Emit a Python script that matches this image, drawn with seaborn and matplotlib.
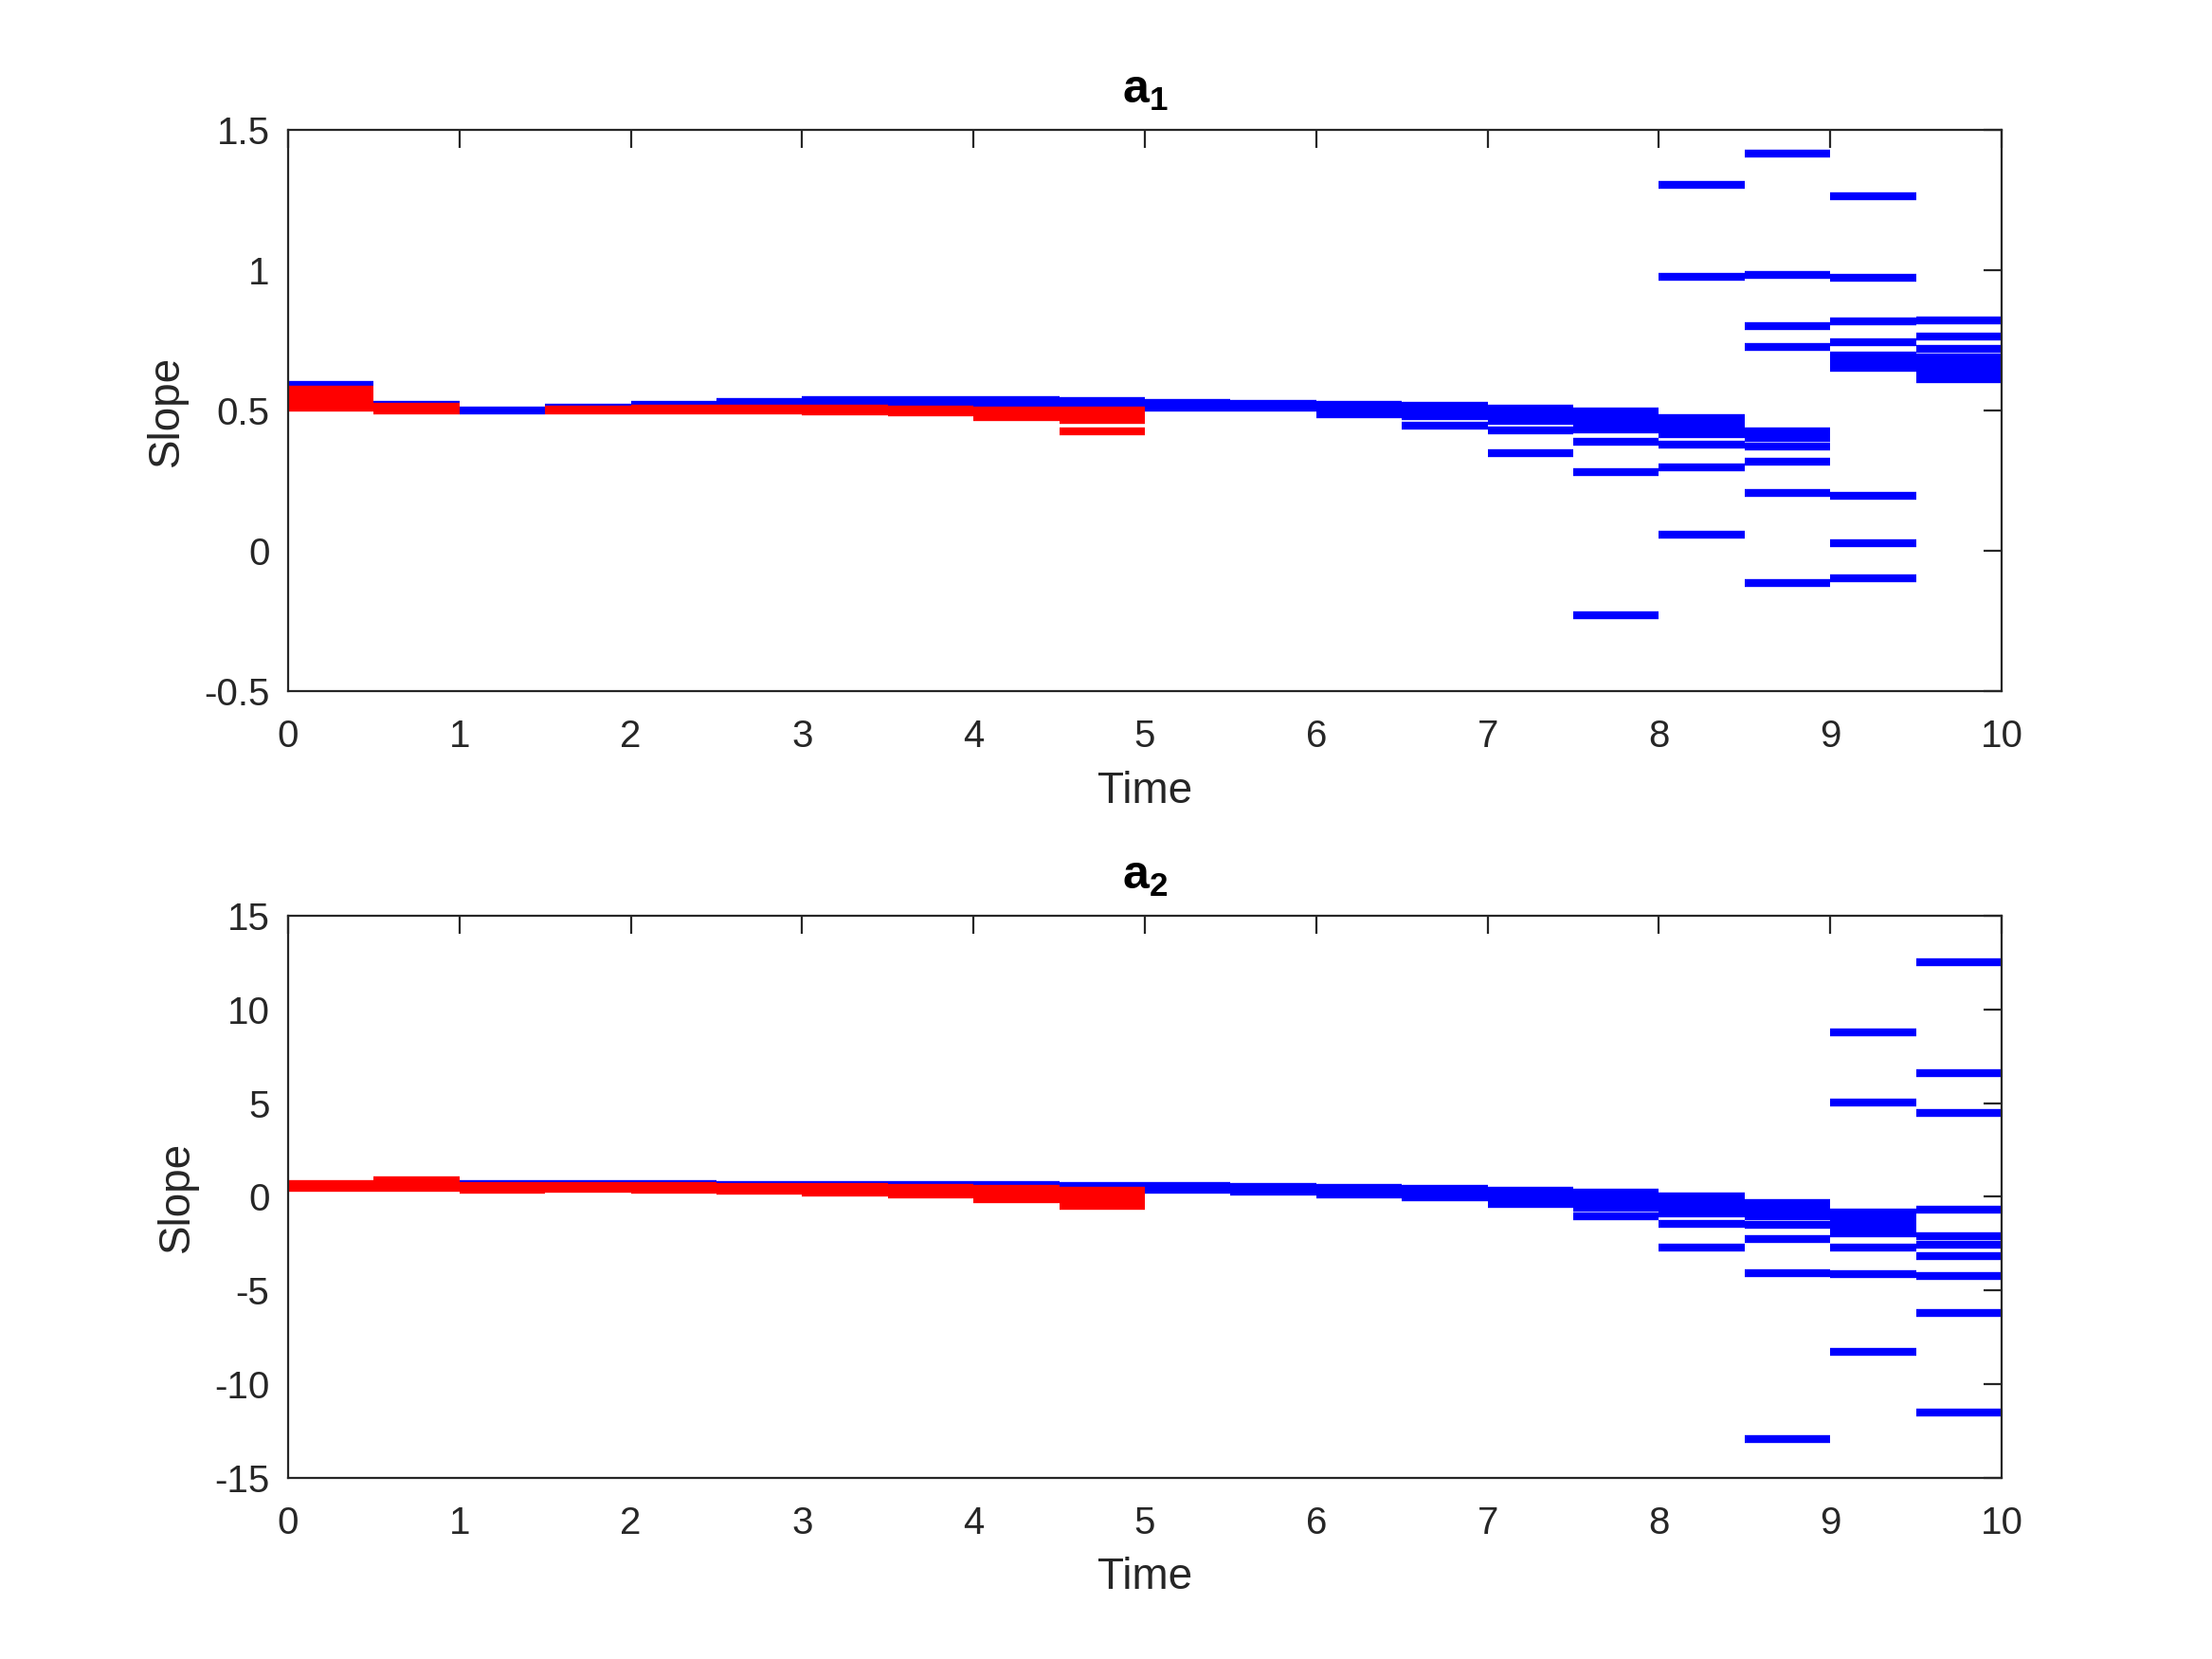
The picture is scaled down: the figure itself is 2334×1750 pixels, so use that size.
import numpy as np
import pandas as pd
import matplotlib
matplotlib.use("Agg")
import matplotlib.pyplot as plt
import seaborn as sns

# time bins (start of each half-unit interval)
bin_start = [0.0, 0.5, 1.0, 1.5, 2.0, 2.5, 3.0, 3.5, 4.0, 4.5,
             5.0, 5.5, 6.0, 6.5, 7.0, 7.5, 8.0, 8.5, 9.0, 9.5]
bin_width = 0.5

# a1 : slope samples per bin
a1_blue = [
    [0.592, 0.56, 0.53], [0.520, 0.51], [0.501], [0.510, 0.505], [0.522, 0.51],
    [0.530, 0.515], [0.536, 0.52], [0.537, 0.52], [0.537, 0.52], [0.534, 0.52],
    [0.528, 0.511], [0.524, 0.511], [0.521, 0.505, 0.488], [0.516, 0.50, 0.481, 0.446],
    [0.508, 0.49, 0.475, 0.462, 0.429, 0.348],
    [0.496, 0.478, 0.46, 0.445, 0.434, 0.39, 0.281, -0.231],
    [1.304, 0.978, 0.474, 0.455, 0.435, 0.417, 0.38, 0.298, 0.059],
    [1.414, 0.983, 0.800, 0.725, 0.425, 0.402, 0.372, 0.319, 0.207, -0.114],
    [1.264, 0.972, 0.819, 0.743, 0.696, 0.675, 0.651, 0.197, 0.027, -0.099],
    [0.820, 0.763, 0.72, 0.69, 0.672, 0.655, 0.638, 0.622, 0.61],
]
a1_red = [
    [0.573, 0.555, 0.54, 0.525, 0.51], [0.513, 0.50], [], [0.503, 0.50], [0.506, 0.50],
    [0.506, 0.50], [0.506, 0.497], [0.504, 0.493], [0.501, 0.49, 0.475],
    [0.501, 0.485, 0.467, 0.427],
]

# a2 : slope samples per bin
a2_blue = [
    [0.55], [0.6], [0.65], [0.65], [0.65], [0.62], [0.6], [0.62], [0.62], [0.59],
    [0.55, 0.38], [0.52, 0.38, 0.28], [0.47, 0.3, 0.14], [0.4, 0.2, 0.0, -0.06],
    [0.33, 0.1, -0.15, -0.41],
    [0.2, -0.05, -0.3, -0.6, -1.05],
    [0.0, -0.3, -0.6, -0.92, -1.45, -2.71],
    [-0.33, -0.55, -0.8, -1.07, -1.49, -2.26, -4.08, -12.97],
    [8.76, 5.04, -0.87, -1.15, -1.45, -1.7, -1.97, -2.72, -4.16, -8.29],
    [12.52, 6.60, 4.47, -0.72, -2.11, -2.55, -3.18, -4.22, -6.23, -11.53],
]
a2_red = [
    [0.65, 0.48], [0.85, 0.65, 0.48], [0.57, 0.45, 0.36], [0.57, 0.41],
    [0.57, 0.45, 0.38], [0.52, 0.4, 0.31], [0.5, 0.35, 0.23], [0.47, 0.3, 0.09],
    [0.42, 0.2, 0.0, -0.16], [0.31, 0.1, -0.1, -0.3, -0.5],
]

titles = [r"$\mathbf{a_1}$", r"$\mathbf{a_2}$"]
x_ticks = list(range(0, 11))
y_ticks = [[-0.5, 0, 0.5, 1, 1.5], [-15, -10, -5, 0, 5, 10, 15]]
y_ticklabels = [["-0.5", "0", "0.5", "1", "1.5"],
                ["-15", "-10", "-5", "0", "5", "10", "15"]]


def segments(blue, red):
    # long table: every sample becomes a 2-point horizontal segment over its bin
    rows = []
    seg = 0
    for src, samples in (("blue", blue), ("red", red)):
        for i, vals in enumerate(samples):
            for v in vals:
                rows.append((seg, src, bin_start[i], v))
                rows.append((seg, src, bin_start[i] + bin_width, v))
                seg += 1
    return pd.DataFrame(rows, columns=["seg", "src", "t", "v"])


sns.set_style("white")
plt.rcParams["font.family"] = ["Liberation Sans", "DejaVu Sans"]
plt.rcParams["mathtext.fontset"] = "custom"
plt.rcParams["mathtext.bf"] = "Liberation Sans:bold"
plt.rcParams["mathtext.rm"] = "Liberation Sans"

fig = plt.figure(figsize=(11.67, 8.75), dpi=200)
positions = [[0.1302, 0.5834, 0.7747, 0.3383], [0.1302, 0.1094, 0.7747, 0.3386]]
data = [(a1_blue, a1_red), (a2_blue, a2_red)]
ylims = [(-0.5, 1.5), (-15, 15)]

for k in range(2):
    ax = fig.add_axes(positions[k])
    df = segments(*data[k])
    sns.lineplot(data=df, x="t", y="v", hue="src", units="seg", estimator=None,
                 hue_order=["blue", "red"], palette={"blue": "#0000ff", "red": "#ff0000"},
                 lw=3.0, solid_capstyle="butt", sort=False, legend=False, ax=ax)
    ax.set_xlim(0, 10)
    ax.set_ylim(*ylims[k])
    ax.set_xticks(x_ticks)
    ax.set_xticklabels([str(x) for x in x_ticks])
    ax.set_yticks(y_ticks[k])
    ax.set_yticklabels(y_ticklabels[k])
    ax.tick_params(direction="in", length=6.8, width=0.8, top=True, right=True,
                   labelsize=14.5, colors="#262626", pad=7)
    ax.tick_params(axis="x", pad=10.5)
    for s in ax.spines.values():
        s.set_visible(True)
        s.set_linewidth(0.8)
        s.set_color("#262626")
    ax.set_xlabel("Time", fontsize=16.5, color="#262626", labelpad=6)
    ax.set_ylabel("Slope", fontsize=16.5, color="#262626", labelpad=6)
    ax.set_title(titles[k], fontsize=18, pad=10, color="black")

fig.savefig("out.png", dpi=200)
